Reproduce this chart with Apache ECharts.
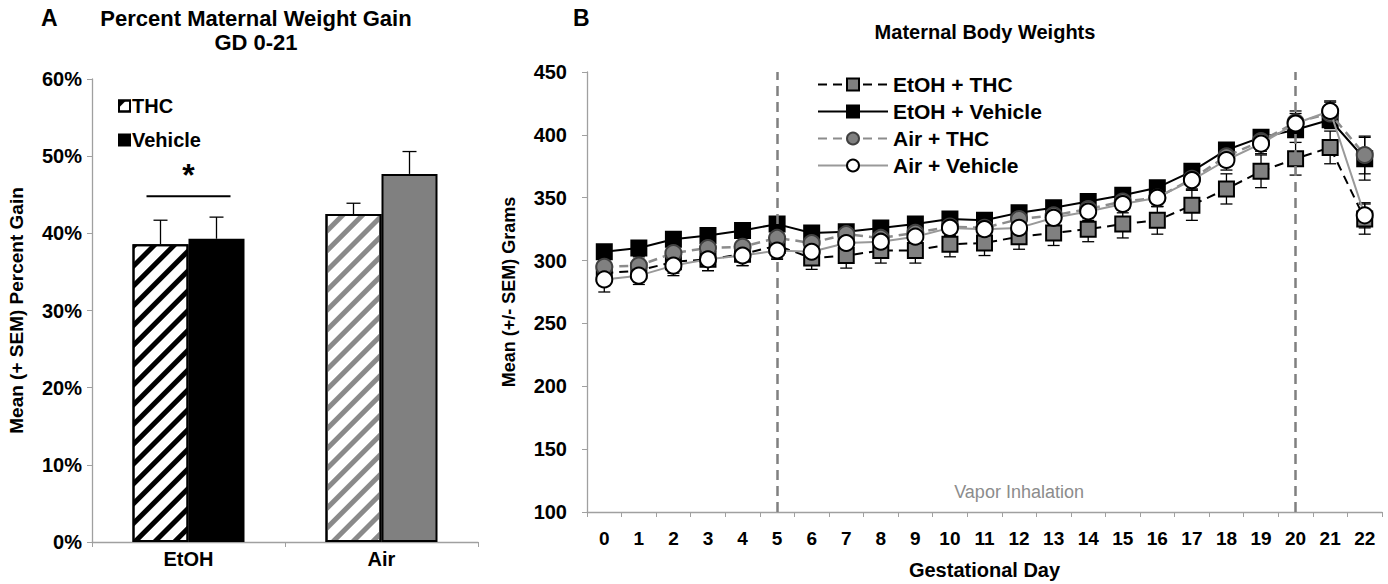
<!DOCTYPE html>
<html>
<head>
<meta charset="utf-8">
<script src="https://cdn.jsdelivr.net/npm/echarts@6/dist/echarts.min.js"></script>
<style>
html,body{margin:0;padding:0;background:#fff;}
#c{width:1388px;height:584px;}
</style>
</head>
<body>
<div id="c"></div>
<script>
// ---------- Panel A data ----------
var groupsA = ['EtOH', 'Air'];
var thcGain = [0.386, 0.425];
var thcGainSem = [0.031, 0.014];
var vehGain = [0.393, 0.477];
var vehGainSem = [0.028, 0.029];

// ---------- Panel B data ----------
var days = ['0','1','2','3','4','5','6','7','8','9','10','11','12','13','14','15','16','17','18','19','20','21','22'];
var etohThc    = [290, 292, 299, 301, 305, 312, 302, 304, 308, 308, 313, 314, 319, 322, 325, 329, 332, 344, 357, 371, 381, 390, 333];
var etohThcSem = [10, 9, 9, 9, 9, 10, 9, 10, 10, 10, 10, 10, 10, 10, 10, 11, 11, 12, 12, 13, 13, 13, 12];
var etohVeh    = [307, 310, 317, 320, 324, 329, 322, 323, 326, 329, 333, 332, 338, 342, 347, 352, 358, 371, 388, 398, 404, 412, 381];
var etohVehSem = [5, 5, 5, 5, 5, 5, 5, 5, 5, 5, 5, 5, 5, 5, 5, 5, 5, 5, 5, 5, 6, 7, 17];
var airThc     = [295, 296, 306, 310, 311, 318, 314, 321, 318, 322, 327, 326, 333, 336, 341, 347, 350, 365, 383, 395, 410, 417, 384];
var airThcSem  = [7, 7, 7, 7, 7, 7, 7, 7, 7, 7, 7, 7, 7, 7, 7, 7, 7, 8, 8, 8, 9, 9, 15];
var airVeh     = [285, 288, 296, 301, 304, 308, 307, 314, 315, 319, 326, 325, 326, 334, 339, 345, 350, 364, 380, 393, 409, 419, 336];
var airVehSem  = [10, 7, 8, 9, 8, 7, 7, 7, 7, 7, 7, 7, 7, 7, 7, 7, 7, 8, 8, 8, 8, 8, 10];
var inhalationDays = ['5', '20'];

var FONT = '"Liberation Sans", Arial, sans-serif';
var NARROW = '"Liberation Sans Narrow", "Liberation Sans", Arial, sans-serif';
var AXIS_GRAY = '#a0a0a0';

function stripe(color) {
  return {symbol: 'rect', symbolSize: 1, dashArrayX: [1, 0], dashArrayY: [5, 9], rotation: -Math.PI / 4, color: color};
}

var BAR_W = 56;

function barErr(means, sems, sign) {
  return means.map(function (m, i) { return [i, m, m + sems[i], sign]; });
}
function lineErr(vals, sems) {
  return vals.map(function (v, i) { return [i, v - sems[i], v + sems[i]]; });
}

function renderBarErr(params, api) {
  var c = api.value(0), top = api.value(2), m = api.value(1), s = api.value(3);
  var pTop = api.coord([c, top]);
  var pM = api.coord([c, m]);
  var x = pTop[0] + s * BAR_W / 2;
  return {type: 'group', children: [
    {type: 'line', shape: {x1: x, y1: pM[1], x2: x, y2: pTop[1]}, style: {stroke: '#000', lineWidth: 1.3}},
    {type: 'line', shape: {x1: x - 7, y1: pTop[1], x2: x + 7, y2: pTop[1]}, style: {stroke: '#000', lineWidth: 1.3}}
  ]};
}
function renderLineErr(params, api) {
  var c = api.value(0);
  var lo = api.coord([c, api.value(1)]);
  var hi = api.coord([c, api.value(2)]);
  var x = lo[0], w = 6;
  return {type: 'group', children: [
    {type: 'line', shape: {x1: x, y1: lo[1], x2: x, y2: hi[1]}, style: {stroke: '#000', lineWidth: 1.3}},
    {type: 'line', shape: {x1: x - w, y1: lo[1], x2: x + w, y2: lo[1]}, style: {stroke: '#000', lineWidth: 1.3}},
    {type: 'line', shape: {x1: x - w, y1: hi[1], x2: x + w, y2: hi[1]}, style: {stroke: '#000', lineWidth: 1.3}}
  ]};
}

var chart = echarts.init(document.getElementById('c'), null, {renderer: 'svg'});

var option = {
  animation: false,
  backgroundColor: '#fff',
  textStyle: {fontFamily: FONT},
  grid: [
    {left: 92, top: 79, width: 386, height: 463, containLabel: false, outerBoundsMode: 'none'},
    {left: 587, top: 72, width: 795, height: 440, containLabel: false, outerBoundsMode: 'none'}
  ],
  legend: [
    {
      data: ['THC', 'Vehicle'],
      orient: 'vertical', left: 113, top: 91, itemGap: 14,
      itemWidth: 11, itemHeight: 11, icon: 'rect',
      textStyle: {fontFamily: FONT, fontWeight: 'bold', fontSize: 20, color: '#000', padding: [0, 0, 0, -3]}
    },
    {
      data: ['EtOH + THC', 'EtOH + Vehicle', 'Air + THC', 'Air + Vehicle'],
      orient: 'vertical', left: 812, top: 69, itemGap: 6,
      itemWidth: 70, itemHeight: 15,
      textStyle: {fontFamily: FONT, fontWeight: 'bold', fontSize: 21, color: '#000'}
    }
  ],
  xAxis: [
    {
      type: 'category', gridIndex: 0, data: groupsA,
      axisLine: {lineStyle: {color: AXIS_GRAY, width: 1.3}},
      axisTick: {show: true, alignWithLabel: false, lineStyle: {color: AXIS_GRAY}, length: 5},
      axisLabel: {fontFamily: FONT, fontWeight: 'bold', fontSize: 20, color: '#000', margin: 7}
    },
    {
      type: 'category', gridIndex: 1, data: days,
      name: 'Gestational Day', nameLocation: 'middle', nameGap: 48,
      nameTextStyle: {fontFamily: FONT, fontWeight: 'bold', fontSize: 20, color: '#000'},
      axisLine: {lineStyle: {color: AXIS_GRAY, width: 1.3}},
      axisTick: {show: true, lineStyle: {color: AXIS_GRAY}, length: 5},
      axisLabel: {fontFamily: NARROW, fontWeight: 'bold', fontSize: 19, color: '#000', margin: 17}
    }
  ],
  yAxis: [
    {
      type: 'value', gridIndex: 0, min: 0, max: 0.6, interval: 0.1,
      name: 'Mean (+ SEM) Percent Gain', nameLocation: 'middle', nameGap: 66, nameRotate: 90,
      nameTextStyle: {fontFamily: FONT, fontWeight: 'bold', fontSize: 19, color: '#000'},
      axisLine: {show: true, lineStyle: {color: AXIS_GRAY, width: 1.3}},
      axisTick: {show: true, lineStyle: {color: AXIS_GRAY}, length: 5},
      splitLine: {show: false},
      axisLabel: {fontFamily: FONT, fontWeight: 'bold', fontSize: 20, color: '#000', margin: 10,
        formatter: function (v) { return Math.round(v * 100) + '%'; }}
    },
    {
      type: 'value', gridIndex: 1, min: 100, max: 450, interval: 50,
      name: 'Mean (+/- SEM) Grams', nameLocation: 'middle', nameGap: 69, nameRotate: 90,
      nameTextStyle: {fontFamily: FONT, fontWeight: 'bold', fontSize: 18, color: '#000'},
      axisLine: {show: true, lineStyle: {color: AXIS_GRAY, width: 1.3}},
      axisTick: {show: true, lineStyle: {color: AXIS_GRAY}, length: 5},
      splitLine: {show: false},
      axisLabel: {fontFamily: FONT, fontWeight: 'bold', fontSize: 20, color: '#000', margin: 20}
    }
  ],
  series: [
    // ---------- Panel A ----------
    {
      name: 'THC', type: 'bar', xAxisIndex: 0, yAxisIndex: 0, barWidth: BAR_W, barGap: '0%',
      itemStyle: {color: '#fff', borderColor: '#000', borderWidth: 2, decal: stripe('#000')},
      data: [
        {value: thcGain[0]},
        {value: thcGain[1], itemStyle: {color: '#fff', borderColor: '#000', borderWidth: 2, decal: stripe('#8a8a8a')}}
      ]
    },
    {
      name: 'Vehicle', type: 'bar', xAxisIndex: 0, yAxisIndex: 0, barWidth: BAR_W, barGap: '0%',
      itemStyle: {color: '#000', borderColor: '#000', borderWidth: 2},
      data: [
        {value: vehGain[0]},
        {value: vehGain[1], itemStyle: {color: '#808080', borderColor: '#000', borderWidth: 2}}
      ]
    },
    {type: 'custom', xAxisIndex: 0, yAxisIndex: 0, renderItem: renderBarErr, data: barErr(thcGain, thcGainSem, -1), z: 1, silent: true},
    {type: 'custom', xAxisIndex: 0, yAxisIndex: 0, renderItem: renderBarErr, data: barErr(vehGain, vehGainSem, 1), z: 1, silent: true},

    // ---------- Panel B error bars ----------
    {type: 'custom', xAxisIndex: 1, yAxisIndex: 1, renderItem: renderLineErr, data: lineErr(etohThc, etohThcSem), z: 1, silent: true},
    {type: 'custom', xAxisIndex: 1, yAxisIndex: 1, renderItem: renderLineErr, data: lineErr(etohVeh, etohVehSem), z: 1, silent: true},
    {type: 'custom', xAxisIndex: 1, yAxisIndex: 1, renderItem: renderLineErr, data: lineErr(airThc, airThcSem), z: 1, silent: true},
    {type: 'custom', xAxisIndex: 1, yAxisIndex: 1, renderItem: renderLineErr, data: lineErr(airVeh, airVehSem), z: 1, silent: true},

    // ---------- Panel B lines ----------
    {
      name: 'EtOH + THC', type: 'line', xAxisIndex: 1, yAxisIndex: 1, data: etohThc, z: 3,
      symbol: 'rect', symbolSize: 15,
      lineStyle: {color: '#000', width: 2, type: [9, 6]},
      itemStyle: {color: '#808080', borderColor: '#000', borderWidth: 2},
      markLine: {
        silent: true, symbol: ['none', 'none'], label: {show: false},
        lineStyle: {color: '#808080', width: 2.5, type: [10, 6]},
        data: inhalationDays.map(function (d) { return {xAxis: d}; })
      }
    },
    {
      name: 'EtOH + Vehicle', type: 'line', xAxisIndex: 1, yAxisIndex: 1, data: etohVeh, z: 4,
      symbol: 'rect', symbolSize: 15,
      lineStyle: {color: '#000', width: 2},
      itemStyle: {color: '#000', borderColor: '#000', borderWidth: 2}
    },
    {
      name: 'Air + THC', type: 'line', xAxisIndex: 1, yAxisIndex: 1, data: airThc, z: 5,
      symbol: 'circle', symbolSize: 16,
      lineStyle: {color: '#8c8c8c', width: 2.5, type: [9, 6]},
      itemStyle: {color: '#808080', borderColor: '#404040', borderWidth: 2}
    },
    {
      name: 'Air + Vehicle', type: 'line', xAxisIndex: 1, yAxisIndex: 1, data: airVeh, z: 6,
      symbol: 'circle', symbolSize: 16,
      lineStyle: {color: '#999999', width: 2},
      itemStyle: {color: '#fff', borderColor: '#000', borderWidth: 2}
    }
  ]
};
chart.setOption(option);

// Annotations placed through the charts' own coordinate systems
var sigL = chart.convertToPixel({gridIndex: 0}, [groupsA[0], 0.448]);
var star = chart.convertToPixel({gridIndex: 0}, [groupsA[0], 0.475]);
var vapor = chart.convertToPixel({gridIndex: 1}, [12.2, 116]);

chart.setOption({
  graphic: [
    {type: 'text', left: 41, top: 6, style: {text: 'A', font: 'bold 23px ' + FONT, fill: '#000'}},
    {type: 'text', x: 256, y: 6, style: {text: 'Percent Maternal Weight Gain\nGD 0-21', font: 'bold 22px ' + FONT, fill: '#000', textAlign: 'center', lineHeight: 24}},
    {type: 'text', left: 573, top: 6, style: {text: 'B', font: 'bold 23px ' + FONT, fill: '#000'}},
    {type: 'text', x: 985, y: 22, style: {text: 'Maternal Body Weights', font: 'bold 20px ' + FONT, fill: '#000', textAlign: 'center'}},
    {type: 'line', shape: {x1: sigL[0] - 42, y1: sigL[1], x2: sigL[0] + 42, y2: sigL[1]}, style: {stroke: '#000', lineWidth: 2}},
    {type: 'text', x: star[0], y: star[1], style: {text: '*', font: 'bold 32px ' + FONT, fill: '#000', textAlign: 'center', textVerticalAlign: 'middle'}},
    {type: 'text', x: vapor[0], y: vapor[1], style: {text: 'Vapor Inhalation', font: '18px ' + NARROW, fill: '#8c8c8c', textAlign: 'center', textVerticalAlign: 'middle'}}
  ]
});
</script>
</body>
</html>
